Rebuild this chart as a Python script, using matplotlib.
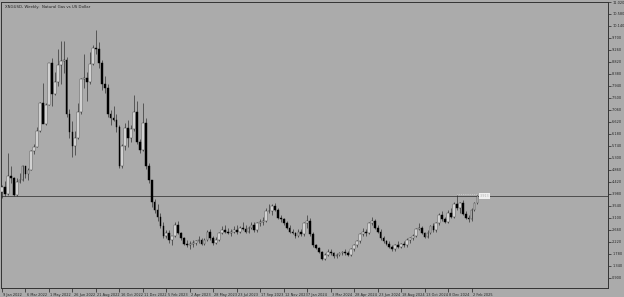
import matplotlib.pyplot as plt
import matplotlib.transforms as mtransforms
import numpy as np

# weekly candles, XNGUSD, starting week of 9 Jan 2022
opens = [4.05, 4.25, 3.99, 4.64, 4.57, 3.94, 4.43, 4.50, 5.00, 4.73,
         4.86, 5.57, 5.72, 6.28, 7.30, 6.55, 7.24, 8.78, 7.65, 8.08,
         8.70, 8.85, 8.90, 6.90, 6.25, 5.73, 6.03, 7.00, 8.20, 8.25,
         8.10, 8.75, 9.35, 9.30, 8.80, 8.00, 7.85, 6.90, 6.75, 6.70,
         6.45, 5.00, 5.75, 6.40, 6.05, 6.35, 7.00, 5.90, 5.60, 6.60,
         5.00, 4.50, 3.70, 3.40, 3.15, 2.80, 2.45, 2.55, 2.30, 2.45,
         2.85, 2.55, 2.35, 2.15, 2.10, 2.15, 2.20, 2.25, 2.30, 2.15,
         2.30, 2.60, 2.35, 2.20, 2.30, 2.55, 2.65, 2.60, 2.55, 2.60,
         2.65, 2.60, 2.75, 2.70, 2.60, 2.75, 2.85, 2.65, 2.90, 2.95,
         3.00, 3.35, 3.35, 3.55, 3.40, 3.10, 3.05, 2.90, 2.75, 2.60,
         2.55, 2.45, 2.60, 2.50, 2.90, 3.00, 2.50, 2.10, 2.00, 1.85,
         1.60, 1.75, 1.85, 1.80, 1.70, 1.75, 1.80, 1.85, 1.80, 1.75,
         1.95, 2.10, 2.25, 2.50, 2.60, 2.55, 2.90, 3.00, 2.75, 2.60,
         2.35, 2.25, 2.15, 2.05, 1.95, 2.10, 2.05, 2.15, 2.10, 2.30,
         2.35, 2.45, 2.70, 2.75, 2.55, 2.40, 2.55, 2.80, 2.65, 2.90,
         3.20, 3.05, 2.95, 3.30, 3.15, 3.60, 3.45, 3.65, 3.25, 3.10,
         3.05, 3.40, 3.65]
highs = [4.30, 4.45, 5.50, 5.00, 4.60, 4.55, 4.75, 5.05, 5.00, 4.95,
         5.60, 5.80, 6.45, 7.35, 8.05, 7.30, 8.80, 8.95, 8.45, 9.30,
         9.60, 9.60, 9.00, 7.10, 6.65, 6.30, 7.30, 8.25, 9.10, 8.45,
         9.20, 9.45, 10.00, 9.55, 8.90, 8.30, 8.00, 7.05, 7.20, 6.90,
         6.50, 5.80, 6.60, 6.70, 6.50, 7.60, 7.40, 6.00, 7.30, 6.75,
         5.10, 4.50, 3.80, 3.60, 3.30, 2.95, 2.65, 2.65, 2.45, 2.95,
         3.00, 2.60, 2.40, 2.30, 2.25, 2.30, 2.30, 2.45, 2.35, 2.35,
         2.65, 2.70, 2.45, 2.40, 2.60, 2.80, 2.85, 2.75, 2.70, 2.80,
         2.85, 2.80, 2.95, 2.85, 2.80, 2.95, 2.95, 2.95, 3.05, 3.15,
         3.45, 3.60, 3.60, 3.65, 3.45, 3.20, 3.10, 3.00, 2.85, 2.70,
         2.60, 2.70, 2.70, 2.95, 3.20, 3.10, 2.60, 2.15, 2.05, 1.90,
         1.80, 1.95, 1.95, 1.85, 1.80, 1.85, 1.90, 1.95, 1.90, 2.00,
         2.15, 2.30, 2.55, 2.75, 2.70, 2.95, 3.15, 3.05, 2.85, 2.70,
         2.45, 2.30, 2.25, 2.10, 2.15, 2.25, 2.20, 2.25, 2.35, 2.40,
         2.50, 2.75, 2.90, 2.80, 2.60, 2.65, 2.85, 2.90, 2.95, 3.30,
         3.35, 3.15, 3.40, 3.45, 3.70, 3.95, 3.70, 3.75, 3.35, 3.20,
         3.45, 3.70, 3.95]
lows = [3.85, 3.90, 3.95, 4.40, 3.90, 3.90, 4.40, 4.45, 4.55, 4.50,
        4.85, 5.45, 5.70, 6.25, 6.65, 6.50, 7.25, 7.20, 7.60, 7.95,
        8.00, 8.40, 6.80, 6.05, 5.35, 5.40, 6.00, 6.90, 7.85, 7.40,
        8.00, 8.70, 9.10, 8.60, 7.80, 7.70, 6.80, 6.50, 6.65, 6.25,
        4.95, 4.95, 5.60, 5.70, 5.90, 6.30, 5.80, 5.50, 5.55, 4.90,
        4.40, 3.50, 3.30, 3.00, 2.75, 2.35, 2.35, 2.20, 2.10, 2.40,
        2.50, 2.30, 2.10, 2.05, 1.95, 2.05, 2.10, 2.20, 2.10, 2.10,
        2.25, 2.30, 2.10, 2.15, 2.25, 2.50, 2.55, 2.50, 2.45, 2.55,
        2.50, 2.55, 2.65, 2.55, 2.55, 2.70, 2.60, 2.60, 2.80, 2.85,
        2.95, 3.30, 3.20, 3.35, 3.05, 2.95, 2.85, 2.70, 2.55, 2.50,
        2.35, 2.40, 2.45, 2.45, 2.75, 2.45, 2.05, 1.95, 1.80, 1.55,
        1.55, 1.70, 1.75, 1.65, 1.65, 1.70, 1.75, 1.75, 1.70, 1.70,
        1.90, 2.05, 2.20, 2.45, 2.45, 2.50, 2.85, 2.70, 2.55, 2.30,
        2.20, 2.10, 2.00, 1.90, 1.90, 2.00, 2.00, 2.05, 2.05, 2.20,
        2.30, 2.40, 2.65, 2.50, 2.35, 2.35, 2.50, 2.60, 2.60, 2.85,
        3.00, 2.90, 2.90, 3.10, 3.10, 3.40, 3.30, 3.20, 3.05, 2.95,
        3.00, 3.35, 3.60]
closes = [4.25, 3.99, 4.64, 4.57, 3.94, 4.43, 4.50, 5.00, 4.73, 4.86,
          5.57, 5.72, 6.28, 7.30, 6.55, 7.24, 8.78, 7.65, 8.08, 8.70,
          8.85, 8.90, 6.90, 6.25, 5.73, 6.03, 7.00, 8.20, 8.25, 8.10,
          8.75, 9.35, 9.30, 8.80, 8.00, 7.85, 6.90, 6.75, 6.70, 6.45,
          5.00, 5.75, 6.40, 6.05, 6.35, 7.00, 5.90, 5.60, 6.60, 5.00,
          4.50, 3.70, 3.40, 3.15, 2.80, 2.45, 2.55, 2.30, 2.45, 2.85,
          2.55, 2.35, 2.15, 2.10, 2.15, 2.20, 2.25, 2.30, 2.15, 2.30,
          2.60, 2.35, 2.20, 2.30, 2.55, 2.65, 2.60, 2.55, 2.60, 2.65,
          2.60, 2.75, 2.70, 2.60, 2.75, 2.85, 2.65, 2.90, 2.95, 3.00,
          3.35, 3.35, 3.55, 3.40, 3.10, 3.05, 2.90, 2.75, 2.60, 2.55,
          2.45, 2.60, 2.50, 2.90, 3.00, 2.50, 2.10, 2.00, 1.85, 1.60,
          1.75, 1.85, 1.80, 1.70, 1.75, 1.80, 1.85, 1.80, 1.75, 1.95,
          2.10, 2.25, 2.50, 2.60, 2.55, 2.90, 3.00, 2.75, 2.60, 2.35,
          2.25, 2.15, 2.05, 1.95, 2.10, 2.05, 2.15, 2.10, 2.30, 2.35,
          2.45, 2.70, 2.75, 2.55, 2.40, 2.55, 2.80, 2.65, 2.90, 3.20,
          3.05, 2.95, 3.30, 3.15, 3.60, 3.45, 3.65, 3.25, 3.10, 3.05,
          3.40, 3.65, 3.91]

date_labels = ["9 Jan 2022", "6 Mar 2022", "1 May 2022", "26 Jun 2022", "21 Aug 2022",
               "16 Oct 2022", "11 Dec 2022", "5 Feb 2023", "2 Apr 2023", "28 May 2023",
               "23 Jul 2023", "17 Sep 2023", "12 Nov 2023", "7 Jan 2024", "3 Mar 2024",
               "28 Apr 2024", "23 Jun 2024", "18 Aug 2024", "13 Oct 2024", "8 Dec 2024",
               "2 Feb 2025"]
price_labels = ["0.900", "1.340", "1.780", "2.220", "2.660", "3.100", "3.540", "3.980",
                "4.420", "4.860", "5.300", "5.740", "6.180", "6.620", "7.060", "7.500",
                "7.940", "8.380", "8.820", "9.260", "9.700", "10.140", "10.580", "11.020"]
last_price = 3.91

BG = "#ababab"
INK = "#222222"

fig = plt.figure(figsize=(6.24, 2.97), dpi=100, facecolor=BG)
ax = fig.add_axes([1 / 624, 1 - 288 / 297, 607 / 624, 286 / 297], facecolor=BG)

o = np.array(opens)
c = np.array(closes)
x = np.arange(len(o))
up = c >= o

ax.vlines(x, lows, highs, color="#262626", lw=0.45, zorder=2)
ax.bar(x[up], (c - o)[up], bottom=o[up], width=0.6,
       color="white", edgecolor="#262626", lw=0.3, zorder=3)
ax.bar(x[~up], (o - c)[~up], bottom=c[~up], width=0.6,
       color="black", edgecolor="black", lw=0.3, zorder=3)

# current price line and marker
ax.axhline(last_price, color="#4d4d4d", lw=0.7, zorder=1)
ax.plot([155, 162], [3.98, 3.98], ls=":", color="#e0e0e0", lw=0.5, zorder=1)
ax.text(162.8, last_price, "3.913", fontsize=2.4, color="#b0b0b0", va="center", ha="left",
        bbox=dict(boxstyle="square,pad=0.25", fc="#f0f0f0", ec="none"))

ax.set_xlim(-0.34, 206.5)
ax.set_ylim(0.533, 11.02)

ax.set_xticks(np.arange(0, 161, 8))
ax.set_xticklabels(date_labels, ha="left")
ax.set_yticks([float(v) for v in price_labels])
ax.set_yticklabels(price_labels)
ax.yaxis.tick_right()
ax.tick_params(axis="x", length=3, width=0.5, pad=0.5, labelsize=2.5, colors=INK)
ax.tick_params(axis="y", length=2, width=0.5, pad=1, labelsize=2.5, colors=INK)

shift = mtransforms.ScaledTranslation(1.2 / 100, 0, fig.dpi_scale_trans)
for lbl in ax.get_xticklabels():
    lbl.set_transform(lbl.get_transform() + shift)

for s in ax.spines.values():
    s.set_color("#333333")
    s.set_linewidth(0.7)

ax.text(0.006, 0.99, "XNGUSD, Weekly:  Natural Gas vs US Dollar", transform=ax.transAxes,
        fontsize=2.8, va="top", ha="left", color=INK)

fig.savefig("out.png", dpi=100, facecolor=BG)
